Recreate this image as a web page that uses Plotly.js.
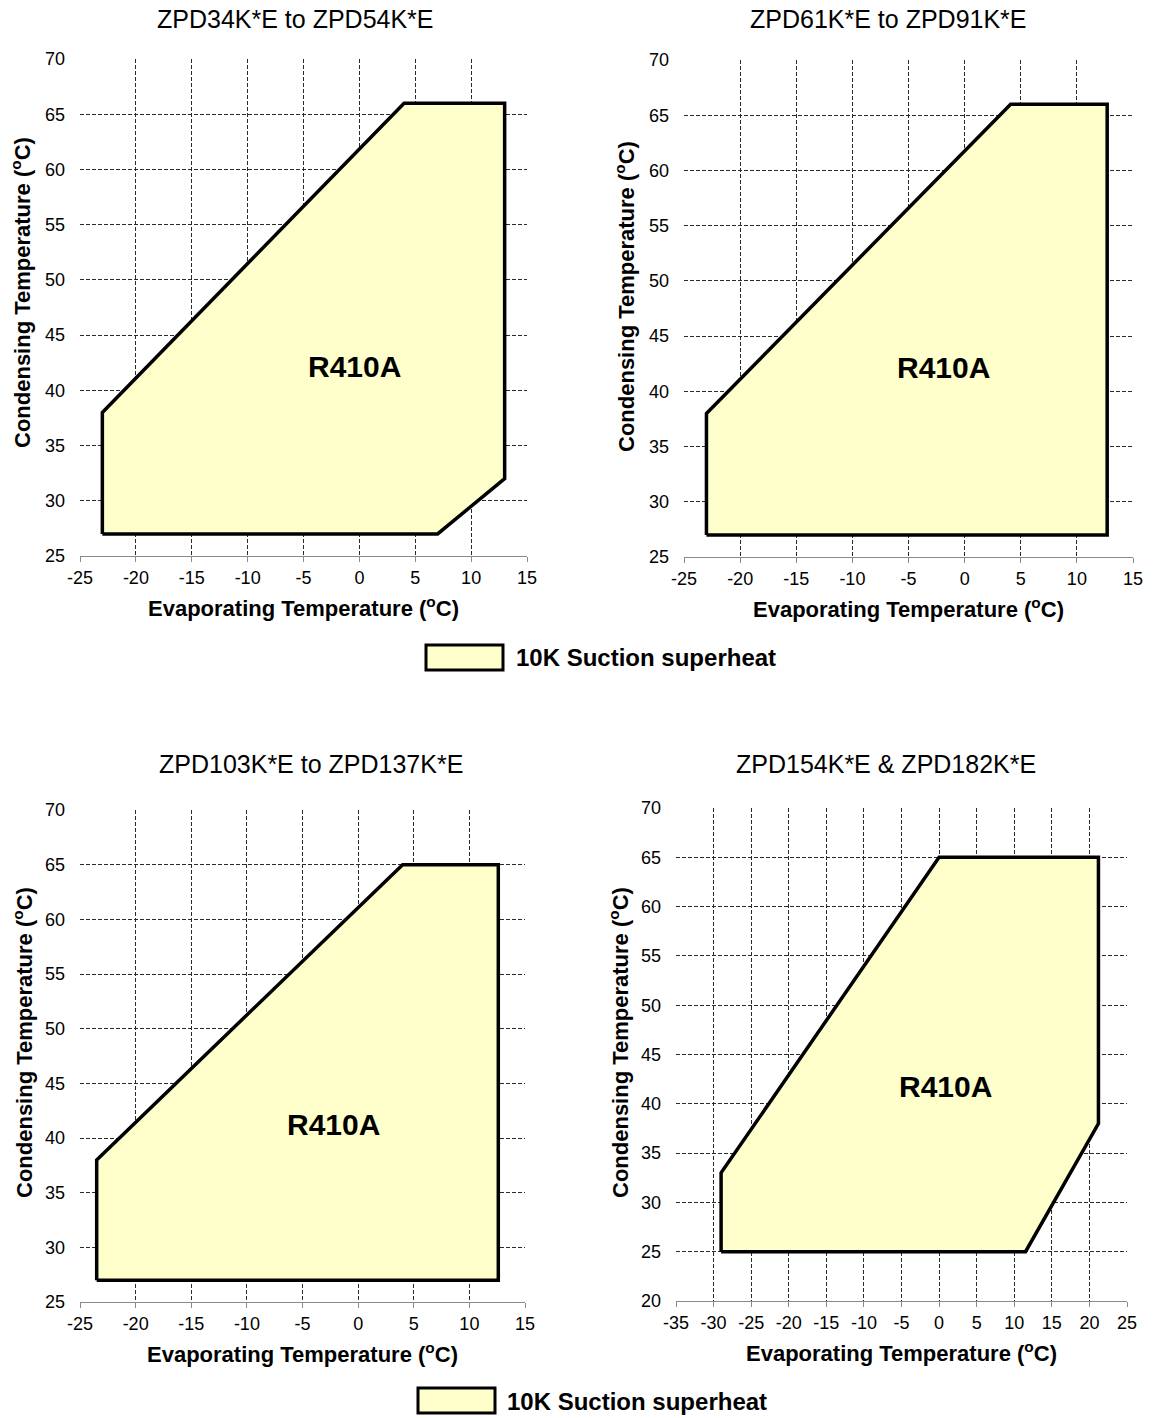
<!DOCTYPE html>
<html>
<head>
<meta charset="utf-8">
<script src="https://cdn.plot.ly/plotly-3.0.1.min.js"></script>
<style>
  html, body { margin: 0; padding: 0; background: #fff; }
  #chart { width: 1153px; height: 1418px; }
</style>
</head>
<body>
<div id="chart"></div>
<script>
// ---- Data ----
const panelTitles = ["ZPD34K*E to ZPD54K*E", "ZPD61K*E to ZPD91K*E", "ZPD103K*E to ZPD137K*E", "ZPD154K*E & ZPD182K*E"];

const env1X = [-23, -23, 4, 13, 13, 7, -23];
const env1Y = [27, 38, 66, 66, 32, 27, 27];

const env2X = [-23, -23, 4.1, 12.7, 12.7, -23];
const env2Y = [27, 38, 66, 66, 27, 27];

const env3X = [-23.5, -23.5, 4, 12.6, 12.6, -23.5];
const env3Y = [27, 38, 65, 65, 27, 27];

const env4X = [-29, -29, 0, 21.2, 21.2, 11.5, -29];
const env4Y = [25, 33, 65, 65, 38, 25, 25];

const refrigerant = "R410A";
const labelX = [-0.4, -1.9, -2.2, 0.8];
const labelY = [42.2, 42.2, 41.2, 41.8];

const xTicksA = [-25, -20, -15, -10, -5, 0, 5, 10, 15];
const xTickTextA = ["-25", "-20", "-15", "-10", "-5", "0", "5", "10", "15"];
const yTicksA = [25, 30, 35, 40, 45, 50, 55, 60, 65, 70];
const xTicksB = [-35, -30, -25, -20, -15, -10, -5, 0, 5, 10, 15, 20, 25];
const xTickTextB = ["-35", "-30", "-25", "-20", "-15", "-10", "-5", "0", "5", "10", "15", "20", "25"];
const yTicksB = [20, 25, 30, 35, 40, 45, 50, 55, 60, 65, 70];

const xRangeA = [-25, 15];
const yRangeA = [25, 70];
const xRangeB = [-35, 25];
const yRangeB = [20, 70];

const legendText = "10K Suction superheat";
const xTitle = "Evaporating Temperature (<sup>o</sup>C)";
const yTitle = "Condensing Temperature (<sup>o</sup>C)";

// ---- Styling ----
const FONT = '"Liberation Sans", Arial, sans-serif';
const FILL = '#FFFFCC';
const W = 1153, H = 1418;

const envX = [env1X, env2X, env3X, env4X];
const envY = [env1Y, env2Y, env3Y, env4Y];

const traces = envX.map((xs, i) => ({
  x: xs, y: envY[i],
  type: 'scatter', mode: 'lines',
  fill: 'toself', fillcolor: FILL,
  line: { color: '#000', width: 3.5, shape: 'linear' },
  xaxis: 'x' + (i === 0 ? '' : i + 1),
  yaxis: 'y' + (i === 0 ? '' : i + 1),
  showlegend: false, hoverinfo: 'skip'
}));

// domains in pixels: [left, right, top, bottom]
const boxes = [
  [80, 527, 59, 556],
  [684, 1133, 60, 557],
  [80, 525, 810, 1302],
  [676, 1127, 808, 1301]
];

function xaxisDef(i, range, tv, tt) {
  const b = boxes[i];
  return {
    domain: [b[0] / W, b[1] / W],
    range: range, tickmode: 'array', tickvals: tv, ticktext: tt,
    anchor: 'y' + (i === 0 ? '' : i + 1),
    showgrid: true, gridcolor: '#2a2a2a', gridwidth: 1, griddash: '4px,2px',
    zeroline: false,
    showline: true, linecolor: '#8a8a8a', linewidth: 1,
    ticks: 'outside', ticklen: 5, tickcolor: '#8a8a8a',
    tickfont: { family: FONT, size: 18, color: '#000' },
    title: { text: xTitle, font: { family: FONT, size: 22, color: '#000', weight: 'bold' }, standoff: 14 },
    fixedrange: true
  };
}
function yaxisDef(i, range, tv) {
  const b = boxes[i];
  return {
    domain: [1 - b[3] / H, 1 - b[2] / H],
    range: range, tickmode: 'array', tickvals: tv, ticktext: tv.map(String),
    anchor: 'x' + (i === 0 ? '' : i + 1),
    showgrid: true, gridcolor: '#2a2a2a', gridwidth: 1, griddash: '4px,2px',
    zeroline: false, showline: false, ticks: '',
    ticklabelstandoff: 14,
    tickfont: { family: FONT, size: 18, color: '#000' },
    fixedrange: true
  };
}

const layout = {
  width: W, height: H,
  margin: { l: 0, r: 0, t: 0, b: 0 },
  paper_bgcolor: '#fff', plot_bgcolor: '#fff',
  showlegend: false,
  font: { family: FONT, color: '#000' },
  xaxis: xaxisDef(0, xRangeA, xTicksA, xTickTextA), yaxis: yaxisDef(0, yRangeA, yTicksA),
  xaxis2: xaxisDef(1, xRangeA, xTicksA, xTickTextA), yaxis2: yaxisDef(1, yRangeA, yTicksA),
  xaxis3: xaxisDef(2, xRangeA, xTicksA, xTickTextA), yaxis3: yaxisDef(2, yRangeA, yTicksA),
  xaxis4: xaxisDef(3, xRangeB, xTicksB, xTickTextB), yaxis4: yaxisDef(3, yRangeB, yTicksB),
  annotations: [],
  shapes: []
};

// panel titles
const titlePos = [[295.5, 19], [888, 19], [311, 764], [886, 764]];
panelTitles.forEach((t, i) => {
  layout.annotations.push({
    text: t, xref: 'paper', yref: 'paper',
    x: titlePos[i][0] / W, y: 1 - titlePos[i][1] / H,
    xanchor: 'center', yanchor: 'middle', showarrow: false,
    font: { family: FONT, size: 25, color: '#000' }
  });
});

// y-axis titles (rotated), placed as in the reference
const yTitlePos = [[21, 293], [625, 297], [23, 1043], [619, 1043]];
yTitlePos.forEach(p => {
  layout.annotations.push({
    text: '<b>' + yTitle + '</b>', xref: 'paper', yref: 'paper',
    x: p[0] / W, y: 1 - p[1] / H, textangle: -90,
    xanchor: 'center', yanchor: 'middle', showarrow: false,
    font: { family: FONT, size: 22, color: '#000' }
  });
});

// refrigerant labels
labelX.forEach((lx, i) => {
  const s = i === 0 ? '' : String(i + 1);
  layout.annotations.push({
    text: '<b>' + refrigerant + '</b>', xref: 'x' + s, yref: 'y' + s,
    x: lx, y: labelY[i], showarrow: false,
    xanchor: 'center', yanchor: 'middle',
    font: { family: FONT, size: 30, color: '#000' }
  });
});

// legends (two, each below a row of panels)
const legends = [
  { box: [426, 503, 645, 670], tx: 514, ty: 658 },
  { box: [418, 495, 1388, 1413], tx: 505, ty: 1401 }
];
legends.forEach(l => {
  layout.shapes.push({
    type: 'rect', xref: 'paper', yref: 'paper',
    x0: l.box[0] / W, x1: l.box[1] / W,
    y0: 1 - l.box[3] / H, y1: 1 - l.box[2] / H,
    fillcolor: FILL, line: { color: '#000', width: 3 }
  });
  layout.annotations.push({
    text: '<b>' + legendText + '</b>', xref: 'paper', yref: 'paper',
    x: l.tx / W, y: 1 - l.ty / H, xanchor: 'left', yanchor: 'middle',
    showarrow: false, font: { family: FONT, size: 24, color: '#000' }
  });
});

Plotly.newPlot('chart', traces, layout, { displayModeBar: false, staticPlot: true });
</script>
</body>
</html>
